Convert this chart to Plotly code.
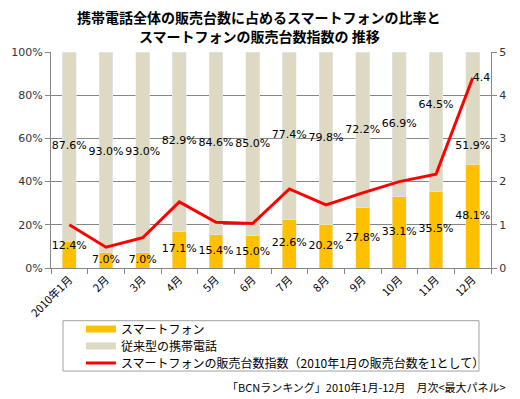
import plotly.graph_objects as go

months = ["2010年1月", "2月", "3月", "4月", "5月", "6月", "7月", "8月", "9月", "10月", "11月", "12月"]
smartphone = [12.4, 7.0, 7.0, 17.1, 15.4, 15.0, 22.6, 20.2, 27.8, 33.1, 35.5, 48.1]
conventional = [87.6, 93.0, 93.0, 82.9, 84.6, 85.0, 77.4, 79.8, 72.2, 66.9, 64.5, 51.9]
index_vals = [1.0, 0.48, 0.70, 1.53, 1.06, 1.03, 1.83, 1.46, 1.74, 2.0, 2.17, 4.4]

name_sp = "スマートフォン"
name_conv = "従来型の携帯電話"
name_idx = "スマートフォンの販売台数指数（2010年1月の販売台数を1として）"

# label positions (moved labels in the original)
sp_label_y = [v / 2 for v in smartphone]
sp_label_y[0] = 10
conv_label_y = [s + c / 2 for s, c in zip(smartphone, conventional)]
conv_label_y[10] = 75.5
conv_label_y[11] = 56.5

C_SP = "#FFC000"
C_CONV = "#DDD9C3"
C_LINE = "#FF0000"
LABEL_FONT = dict(family="DejaVu Sans", size=11, color="#000000")
JP = "Noto Sans CJK JP"

fig = go.Figure()
fig.add_trace(go.Bar(x=months, y=smartphone, marker_color=C_SP, width=0.38, showlegend=False, name=name_sp))
fig.add_trace(go.Bar(x=months, y=conventional, marker_color=C_CONV, width=0.38, showlegend=False, name=name_conv))

fig.add_trace(go.Scatter(x=months, y=sp_label_y, mode="text", text=[f"{v:.1f}%" for v in smartphone],
                         textfont=LABEL_FONT, showlegend=False, cliponaxis=False, hoverinfo="skip"))
fig.add_trace(go.Scatter(x=months, y=conv_label_y, mode="text", text=[f"{v:.1f}%" for v in conventional],
                         textfont=LABEL_FONT, showlegend=False, cliponaxis=False, hoverinfo="skip"))

fig.add_trace(go.Scatter(x=months, y=index_vals, mode="lines", line=dict(color=C_LINE, width=3),
                         yaxis="y2", showlegend=False, name=name_idx))
fig.add_trace(go.Scatter(x=[months[-1]], y=[index_vals[-1]], mode="text", text=[f"{index_vals[-1]:.1f}"],
                         textposition="middle right", textfont=LABEL_FONT, yaxis="y2",
                         showlegend=False, cliponaxis=False, hoverinfo="skip"))

# legend entries, one legend per row
legend_rows = [(name_sp, C_SP, 7, "legend"), (name_conv, C_CONV, 7, "legend2"), (name_idx, C_LINE, 3, "legend3")]
for nm, col, w, lg in legend_rows:
    fig.add_trace(go.Scatter(x=[None], y=[None], mode="lines", line=dict(color=col, width=w), name=nm,
                             showlegend=True, legend=lg))

legend_common = dict(x=0.068, xanchor="left", yanchor="middle", orientation="v",
                     font=dict(family=JP, size=12, color="#000000"), bgcolor="rgba(0,0,0,0)",
                     itemwidth=30, borderwidth=0)

fig.update_layout(
    width=520, height=399,
    margin=dict(l=51, r=29, t=52, b=131, autoexpand=False),
    barmode="stack",
    plot_bgcolor="white", paper_bgcolor="white",
    font=dict(family=JP, size=11, color="#000000"),
    xaxis=dict(type="category", tickson="boundaries", ticks="outside", ticklen=5, tickcolor="#868686",
               showline=True, linecolor="#868686", tickangle=-45, showgrid=False,
               tickfont=dict(family=JP, size=11, color="#000000"), range=[-0.5, 11.5]),
    yaxis=dict(range=[0, 100], dtick=20, ticksuffix="%", showgrid=True, gridcolor="#868686", gridwidth=1,
               showline=True, linecolor="#868686", ticks="outside", ticklen=5, tickcolor="#868686",
               tickfont=dict(family="DejaVu Sans", size=11, color="#333333"), zeroline=False),
    yaxis2=dict(range=[0, 5], dtick=1, overlaying="y", side="right", showgrid=False, showline=True,
                linecolor="#868686", ticks="outside", ticklen=5, tickcolor="#868686",
                tickfont=dict(family="DejaVu Sans", size=11, color="#333333"), zeroline=False),
    legend=dict(y=(268 - 329) / 216, **legend_common),
    legend2=dict(y=(268 - 346) / 216, **legend_common),
    legend3=dict(y=(268 - 363) / 216, **legend_common),
    shapes=[dict(type="rect", xref="paper", yref="paper", x0=0.0273, x1=0.9727, y0=-0.477, y1=-0.244,
                 line=dict(color="#A0A0A0", width=1))],
    annotations=[
        dict(text="<b>携帯電話全体の販売台数に占めるスマートフォンの比率と</b>", xref="paper", yref="paper",
             x=(259 - 51) / 440, y=(268 - 17) / 216, xanchor="center", yanchor="middle", showarrow=False,
             font=dict(family=JP, size=14, color="#000000")),
        dict(text="<b>スマートフォンの販売台数指数の 推移</b>", xref="paper", yref="paper",
             x=(259 - 51) / 440, y=(268 - 36) / 216, xanchor="center", yanchor="middle", showarrow=False,
             font=dict(family=JP, size=14, color="#000000")),
        dict(text="「BCNランキング」2010年1月-12月　月次<最大パネル>", xref="paper", yref="paper",
             x=1.0386, y=-0.551, xanchor="right", yanchor="middle", showarrow=False,
             font=dict(family=JP, size=11, color="#000000")),
    ],
)

fig.write_html("out.html", config={"displayModeBar": False},
               post_script="document.body.style.margin='0px';")
